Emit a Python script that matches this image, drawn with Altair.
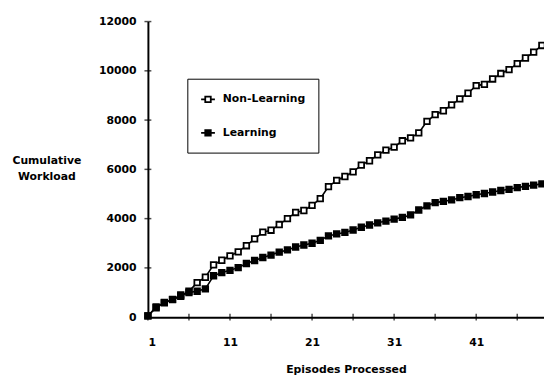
import altair as alt
import pandas as pd

episodes = list(range(1, 50))
non_learning = [50, 420, 580, 720, 850, 1050, 1400, 1620, 2120, 2310,
                2490, 2650, 2900, 3180, 3450, 3530, 3760, 4000, 4250, 4330,
                4540, 4810, 5300, 5550, 5710, 5900, 6170, 6350, 6590, 6780,
                6900, 7160, 7280, 7480, 7950, 8220, 8380, 8620, 8860, 9090,
                9400, 9450, 9670, 9890, 10050, 10290, 10520, 10760, 11030]
learning = [50, 380, 600, 710, 900, 1000, 1050, 1150, 1680, 1810,
            1900, 2010, 2180, 2300, 2420, 2520, 2640, 2730, 2850, 2930,
            3000, 3120, 3300, 3380, 3440, 3540, 3650, 3740, 3830, 3900,
            3980, 4050, 4150, 4350, 4520, 4650, 4700, 4760, 4850, 4900,
            4970, 5020, 5080, 5140, 5190, 5260, 5310, 5360, 5410]
series_names = ["Non-Learning", "Learning"]
x_label_values = [1, 11, 21, 31, 41]
x_tick_values = [1, 6, 11, 16, 21, 26, 31, 36, 41, 46]
y_tick_values = [0, 2000, 4000, 6000, 8000, 10000, 12000]

df = pd.DataFrame({
    "episode": episodes + episodes,
    "workload": non_learning + learning,
    "series": [series_names[0]] * len(episodes) + [series_names[1]] * len(episodes),
})

FONT = "DejaVu Sans"
xscale = alt.Scale(domain=[1, 49.26], nice=False, zero=False)
yscale = alt.Scale(domain=[0, 12000], nice=False)

xaxis = alt.Axis(values=x_label_values, ticks=False, grid=False, format="d",
                 domainColor="black", domainWidth=2, labelPadding=20,
                 title="Episodes Processed", titlePadding=16)
yaxis = alt.Axis(values=y_tick_values, ticks=False, grid=False, format="d",
                 domainColor="black", domainWidth=2, labelPadding=12,
                 title=["Cumulative", "Workload"], titleAngle=0,
                 titleX=-103, titleY=141, titleAlign="center",
                 titleBaseline="middle", titleLineHeight=16)

x_enc = alt.X("episode:Q", scale=xscale, axis=xaxis)
y_enc = alt.Y("workload:Q", scale=yscale, axis=yaxis)

lines = alt.Chart(df).mark_line(color="black", strokeWidth=1.6).encode(
    x=x_enc, y=y_enc, detail="series:N"
)

symbol_path = "M-1,0H-0.4M0.4,0H1M-0.4,-0.4H0.4V0.4H-0.4Z"
points = alt.Chart(df).mark_point(
    shape="square", size=32, filled=True, stroke="black", strokeWidth=1.8, opacity=1
).encode(
    x=x_enc,
    y=y_enc,
    fill=alt.Fill("series:N", scale=alt.Scale(domain=series_names, range=["white", "black"]),
                  legend=alt.Legend(title=None, orient="none", legendX=40, legendY=58,
                                    strokeColor="black", padding=13, rowPadding=19,
                                    symbolType=symbol_path, symbolSize=196,
                                    symbolStrokeColor="black", symbolStrokeWidth=1.8,
                                    symbolOpacity=1, labelOffset=7,
                                    labelFont=FONT, labelFontSize=11,
                                    labelFontWeight="bold", labelColor="black")),
)

xticks = alt.Chart(pd.DataFrame({"t": x_tick_values})).mark_tick(
    orient="vertical", size=7, thickness=1.5, color="black"
).encode(
    x=alt.X("t:Q", scale=xscale, axis=xaxis),
    y=alt.Y(datum=0, type="quantitative", scale=yscale, axis=yaxis),
)
yticks = alt.Chart(pd.DataFrame({"t": y_tick_values})).mark_tick(
    orient="horizontal", size=7, thickness=1.5, color="black"
).encode(
    y=alt.Y("t:Q", scale=yscale, axis=yaxis),
    x=alt.X(datum=1, type="quantitative", scale=xscale, axis=xaxis),
)

chart = alt.layer(lines, points, xticks, yticks).properties(
    width=402, height=300,
    autosize=alt.AutoSizeParams(type="none"),
    padding={"left": 142, "top": 11, "right": 0, "bottom": 60},
).configure_view(stroke=None).configure_axis(
    labelFont=FONT, labelFontSize=11, labelFontWeight="bold", labelColor="black",
    titleFont=FONT, titleFontSize=11, titleFontWeight="bold", titleColor="black",
)

chart.save("out.html", embed_options={"renderer": "svg", "actions": False})
